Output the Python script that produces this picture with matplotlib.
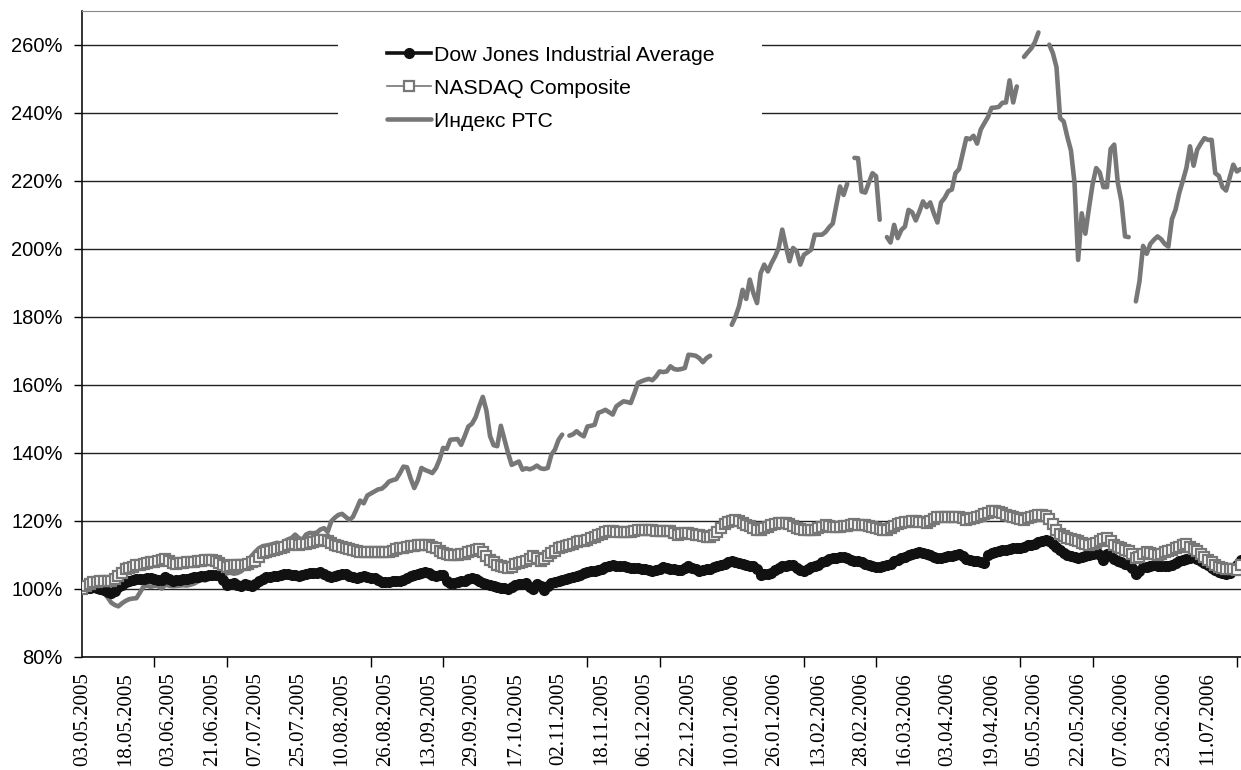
import numpy as np
import matplotlib
matplotlib.use("Agg")
import matplotlib.pyplot as plt
from matplotlib.patches import Rectangle
from matplotlib.ticker import FixedLocator, FuncFormatter

nan = np.nan

##################### data (index values, start = 100%)

date_labels = ["03.05.2005", "18.05.2005", "03.06.2005", "21.06.2005", "07.07.2005",
               "25.07.2005", "10.08.2005", "26.08.2005", "13.09.2005", "29.09.2005",
               "17.10.2005", "02.11.2005", "18.11.2005", "06.12.2005", "22.12.2005",
               "10.01.2006", "26.01.2006", "13.02.2006", "28.02.2006", "16.03.2006",
               "03.04.2006", "19.04.2006", "05.05.2006", "22.05.2006", "07.06.2006",
               "23.06.2006", "11.07.2006"]

djia = [
    100.0, 100.2, 100.4, 100.5, 100.3, 100.0, 99.6, 99.1, 98.7, 99.5,
    100.5, 101.3, 102.0, 102.5, 102.7, 102.9, 103.0, 102.8, 103.1, 103.2,
    103.0, 102.6, 102.7, 103.6, 103.0, 102.4, 102.6, 102.7, 102.9, 103.0,
    103.2, 103.4, 103.5, 103.7, 103.9, 104.1, 104.2, 104.1, 104.0, 102.7,
    101.1, 101.4, 101.7, 101.2, 100.8, 101.5, 101.2, 100.8, 101.6, 102.4,
    102.9, 103.4, 103.6, 103.7, 103.9, 104.1, 104.3, 104.4, 104.2, 104.0,
    103.9, 104.2, 104.5, 104.7, 104.6, 104.8, 105.0, 104.5, 103.8, 103.4,
    103.8, 104.2, 104.4, 104.4, 103.9, 103.4, 103.2, 103.5, 103.7, 103.5,
    103.3, 103.2, 102.7, 102.2, 102.0, 102.1, 102.3, 102.4, 102.5, 102.7,
    103.2, 103.8, 104.2, 104.5, 104.8, 104.9, 104.6, 104.0, 103.7, 104.0,
    104.2, 102.5, 101.7, 101.8, 102.0, 102.3, 102.5, 102.9, 103.2, 103.0,
    102.4, 101.9, 101.4, 101.1, 100.8, 100.5, 100.3, 100.2, 100.1, 100.6,
    101.1, 101.5, 101.6, 101.7, 100.6, 100.1, 101.5, 100.8, 99.8, 100.8,
    101.7, 102.0, 102.4, 102.7, 102.9, 103.2, 103.4, 103.8, 104.2, 104.7,
    104.9, 105.2, 105.4, 105.7, 106.0, 106.4, 106.8, 107.0, 106.9, 106.8,
    106.7, 106.5, 106.3, 106.2, 106.1, 106.0, 105.8, 105.5, 105.2, 105.6,
    106.0, 106.4, 106.2, 106.0, 105.9, 105.7, 105.6, 106.2, 106.7, 106.2,
    105.8, 105.4, 105.7, 106.0, 106.0, 106.4, 106.8, 107.1, 107.5, 107.8,
    108.1, 107.9, 107.6, 107.3, 107.1, 106.9, 106.7, 106.0, 104.2, 104.3,
    104.5, 104.7, 105.5, 106.2, 106.7, 106.9, 107.1, 107.0, 106.3, 105.6,
    105.4, 105.9, 106.4, 106.7, 107.2, 107.8, 108.3, 108.7, 109.1, 109.2,
    109.3, 109.3, 109.0, 108.5, 108.1, 108.3, 107.9, 107.4, 107.0, 106.7,
    106.4, 106.6, 106.9, 107.0, 107.5, 108.1, 108.6, 109.1, 109.5, 109.9,
    110.3, 110.7, 110.9, 110.6, 110.3, 109.9, 109.5, 109.1, 109.2, 109.4,
    109.6, 109.8, 110.1, 110.3, 109.7, 108.9, 108.6, 108.3, 108.1, 107.9,
    107.6, 110.0, 110.5, 110.9, 111.2, 111.4, 111.6, 111.8, 112.0, 112.1,
    112.2, 112.5, 112.8, 113.0, 113.3, 113.8, 114.1, 114.5, 114.0, 113.2,
    112.3, 111.5, 110.6, 110.0, 109.6, 109.3, 109.1, 109.3, 109.6, 109.9,
    110.4, 111.1, 110.0, 108.6, 110.3, 109.7, 108.9, 108.1, 107.8, 107.4,
    107.1, 106.2, 104.4, 105.3, 106.4, 106.6, 106.8, 107.0, 106.9, 106.8,
    106.7, 106.9, 107.1, 107.6, 108.1, 108.6, 108.9, 109.1, 109.3, 108.8,
    108.2, 107.6, 107.0, 106.3, 105.7, 105.1, 104.6, 104.4, 104.8, 105.7,
    107.2, 108.6,
]

nasdaq = [
    100.0, 101.0, 101.6, 102.0, 102.2, 102.4, 102.3, 102.4, 102.4, 102.8,
    103.7, 104.8, 105.8, 106.3, 106.6, 107.0, 107.2, 107.4, 107.6, 107.8,
    108.0, 108.1, 108.5, 108.9, 108.2, 107.6, 107.5, 107.6, 107.7, 107.8,
    107.9, 108.0, 108.2, 108.3, 108.4, 108.5, 108.6, 108.2, 107.6, 107.0,
    106.6, 106.8, 107.0, 107.1, 107.1, 107.1, 107.5, 107.8, 108.1, 109.5,
    110.6, 110.9, 111.3, 111.6, 111.8, 112.0, 112.4, 112.8, 113.2, 113.1,
    113.0, 113.2, 113.3, 113.5, 113.8, 114.1, 114.5, 114.3, 114.0, 113.4,
    112.9, 112.6, 112.3, 112.0, 111.9, 111.5, 111.1, 110.9, 110.9, 110.9,
    110.9, 110.9, 110.9, 110.8, 110.8, 110.9, 111.3, 111.7, 112.0, 112.2,
    112.4, 112.6, 112.7, 112.8, 112.9, 113.0, 112.8, 112.4, 112.0, 111.3,
    110.6, 110.3, 110.1, 109.9, 110.0, 110.2, 110.3, 110.9, 111.3, 111.5,
    111.9, 111.0, 109.6, 108.6, 107.8, 107.1, 106.7, 106.4, 106.2, 106.6,
    107.3, 107.6, 107.9, 108.1, 108.8, 109.6, 109.0, 108.1, 108.8, 109.6,
    110.5, 111.3, 112.0, 112.4, 112.7, 113.0, 113.3, 113.7, 114.0, 114.2,
    114.5, 115.0, 115.4, 115.8, 116.3, 116.7, 117.1, 117.0, 116.9, 116.9,
    116.8, 116.7, 116.9, 117.2, 117.4, 117.4, 117.4, 117.4, 117.3, 117.2,
    117.1, 117.1, 117.1, 117.1, 116.5, 115.9, 116.2, 116.5, 116.5, 116.1,
    115.9, 115.8, 115.5, 115.3, 115.2, 116.0, 116.9, 118.0, 119.0, 119.6,
    120.1, 120.4, 120.0, 119.4, 118.9, 118.4, 117.8, 117.4, 117.5, 117.8,
    118.3, 118.7, 119.1, 119.3, 119.4, 119.4, 119.0, 118.4, 117.9, 117.6,
    117.4, 117.4, 117.4, 117.4, 117.8, 118.3, 118.7, 118.5, 118.2, 118.1,
    118.2, 118.4, 118.6, 118.9, 119.1, 118.9, 118.8, 118.7, 118.5, 118.2,
    117.9, 117.6, 117.4, 117.4, 117.9, 118.6, 119.1, 119.4, 119.7, 119.8,
    119.9, 119.9, 119.8, 119.6, 119.4, 119.9, 120.6, 121.1, 121.2, 121.3,
    121.3, 121.3, 121.3, 121.2, 120.8, 120.4, 120.7, 120.9, 121.1, 121.5,
    122.0, 122.3, 122.8, 123.0, 122.6, 122.3, 121.9, 121.6, 121.3, 121.0,
    120.7, 120.4, 120.8, 121.2, 121.6, 121.7, 121.8, 121.5, 120.6, 119.0,
    117.4, 116.3, 115.5, 115.0, 114.6, 114.3, 114.0, 113.6, 113.2, 113.0,
    113.2, 113.5, 114.0, 114.6, 115.0, 114.0, 113.0, 112.5, 112.0, 111.6,
    111.1, 110.2, 109.0, 109.3, 110.4, 110.9, 110.6, 110.3, 110.1, 110.4,
    110.8, 111.1, 111.5, 112.0, 112.4, 112.8, 113.2, 112.5, 111.7, 111.1,
    110.2, 109.3, 108.6, 107.8, 107.0, 106.4, 106.2, 106.0, 106.0, 105.8,
    105.7, 107.0,
]

rts = [
    100.0, 100.3, 100.1, 100.4, 100.2, 100.3, 98.8, 97.6, 96.0, 95.3,
    94.9, 95.8, 96.5, 97.0, 97.2, 97.3, 99.0, 100.8, 101.0, 100.6,
    101.0, 100.9, 100.1, 101.3, 101.0, 100.8, 100.9, 101.0, 101.1, 101.0,
    101.3, 101.6, 102.2, 102.7, 102.5, 102.9, 103.2, 103.6, 103.8, 104.2,
    104.6, 104.8, 104.5, 104.7, 105.2, 106.2, 108.1, 109.8, 111.0, 112.0,
    112.6, 112.8, 113.0, 113.3, 113.6, 113.2, 114.0, 114.6, 115.0, 116.0,
    115.0, 114.5, 116.0, 116.5, 116.4, 116.6, 117.5, 117.9, 116.8, 119.9,
    121.0, 121.8, 122.1, 121.2, 120.3, 121.2, 123.5, 126.0, 125.2, 127.5,
    128.1, 128.7, 129.3, 129.5, 130.4, 131.6, 132.0, 132.3, 134.0, 136.0,
    135.8, 132.5, 129.7, 132.0, 135.6, 135.0, 134.6, 134.1, 135.5, 138.0,
    141.5, 141.2, 143.9, 144.0, 144.1, 142.4, 145.0, 147.8, 148.6, 150.5,
    153.7, 156.5, 152.5, 145.0, 142.3, 142.0, 148.0, 144.0, 140.0, 136.5,
    137.0, 137.5, 135.1, 135.5, 135.2, 135.6, 136.3, 135.5, 135.3, 135.6,
    139.5, 141.0, 143.9, 145.4, nan, 145.1, 145.5, 146.4, 145.5, 144.9,
    147.8, 148.0, 148.3, 151.8, 152.2, 152.7, 152.0, 151.3, 153.7, 154.5,
    155.2, 155.0, 154.7, 157.5, 160.6, 161.1, 161.5, 161.8, 161.4, 162.5,
    164.0, 163.8, 164.0, 165.5, 164.7, 164.5, 164.7, 165.0, 168.9, 168.8,
    168.6, 167.9, 166.7, 167.9, 168.6, nan, nan, nan, nan, nan,
    177.7, 180.0, 183.1, 188.0, 185.3, 191.0, 187.0, 184.1, 192.9, 195.4,
    193.4, 195.8, 197.8, 200.3, 205.7, 200.8, 196.4, 200.3, 199.3, 195.4,
    198.3, 199.0, 199.8, 204.2, 204.2, 204.2, 205.0, 206.4, 207.5, 213.0,
    218.4, 215.9, 219.2, nan, 226.8, 226.7, 216.9, 216.6, 219.5, 222.3,
    221.4, 208.6, nan, 203.5, 201.9, 207.1, 203.2, 205.6, 206.6, 211.5,
    210.8, 208.4, 211.0, 214.0, 212.3, 213.7, 210.5, 207.8, 213.7, 215.0,
    217.0, 217.5, 222.3, 223.5, 228.0, 232.6, 232.3, 233.3, 231.0, 235.1,
    237.0, 238.8, 241.5, 241.6, 241.8, 243.0, 243.1, 249.6, 243.1, 247.8,
    nan, 256.5, 257.8, 259.0, 260.8, 263.7, nan, nan, 260.1, 257.6,
    253.5, 238.5, 237.5, 233.0, 229.0, 219.5, 196.8, 210.5, 204.5, 212.0,
    219.0, 223.8, 222.5, 218.2, 218.2, 229.4, 230.7, 219.4, 214.0, 203.7,
    203.5, nan, 184.6, 190.5, 200.9, 198.6, 201.5, 202.7, 203.7, 202.9,
    201.5, 200.7, 208.8, 211.6, 216.4, 220.0, 223.8, 230.2, 224.5, 229.2,
    231.0, 232.6, 232.1, 232.1, 222.3, 221.5, 218.2, 217.2, 221.0, 224.8,
    222.8, 223.5,
]

series_names = ["Dow Jones Industrial Average", "NASDAQ Composite", "Индекс РТС"]

##################### figure

fig = plt.figure(figsize=(12.41, 7.70), dpi=100)
ax = fig.add_axes([82.3 / 1241, 1 - 657 / 770, 1158.2 / 1241, 646 / 770])

x = np.arange(len(djia))
gray = "#777777"

ax.plot(x, rts, color=gray, lw=3.3, solid_capstyle="round", zorder=3, label=series_names[2])
ax.plot(x, djia, color="#111111", lw=2.6, marker="o", ms=7.0, mec="#111111",
        zorder=4, label=series_names[0])
ax.plot(x, nasdaq, color=gray, lw=1.2, marker="s", ms=6.8, mfc="white", mec=gray,
        mew=1.6, zorder=5, label=series_names[1])

ax.set_xlim(0, len(djia) - 1)
ax.set_ylim(80, 270)

# y axis
ax.yaxis.set_major_locator(FixedLocator(np.arange(80, 261, 20)))
ax.yaxis.set_major_formatter(FuncFormatter(lambda v, p: "%d%%" % v))
ax.grid(axis="y", color="#222222", lw=1.0, zorder=0)
ax.set_axisbelow(True)
ax.tick_params(axis="y", direction="out", length=6, width=1, pad=8,
               labelsize=14.5, labelfontfamily="Liberation Sans")

# x axis: labels every 12 points, tick marks every 20 points
ax.xaxis.set_major_locator(FixedLocator(np.arange(len(date_labels)) * 12))
ax.set_xticklabels(date_labels, rotation=90, fontfamily="Liberation Serif", fontsize=15)
ax.xaxis.set_minor_locator(FixedLocator(np.arange(0, len(djia), 20)))
ax.tick_params(axis="x", which="major", length=0, pad=10.8)
ax.tick_params(axis="x", which="minor", direction="out", length=7, width=1)

for s in ["left", "bottom"]:
    ax.spines[s].set_color("#111111")
    ax.spines[s].set_linewidth(1.2)
ax.spines["top"].set_color("#888888")
ax.spines["right"].set_visible(False)

# white box behind legend (hides gridlines)
ax.add_patch(Rectangle(((338 - 82.3) / 1158.2, (657 - 150) / 646), 424 / 1158.2, 125 / 646,
                       transform=ax.transAxes, facecolor="white", edgecolor="none", zorder=1))

handles, labels = ax.get_legend_handles_labels()
order = [1, 2, 0]
leg = ax.legend([handles[i] for i in order], [labels[i] for i in order],
                loc="upper left", bbox_to_anchor=((376 - 82.3) / 1158.2, (657 - 35) / 646),
                frameon=False, borderpad=0, handlelength=2.07, handletextpad=0.15,
                labelspacing=0.66, prop={"family": "Liberation Sans", "size": 15.3})

fig.savefig("out.png", dpi=100)
